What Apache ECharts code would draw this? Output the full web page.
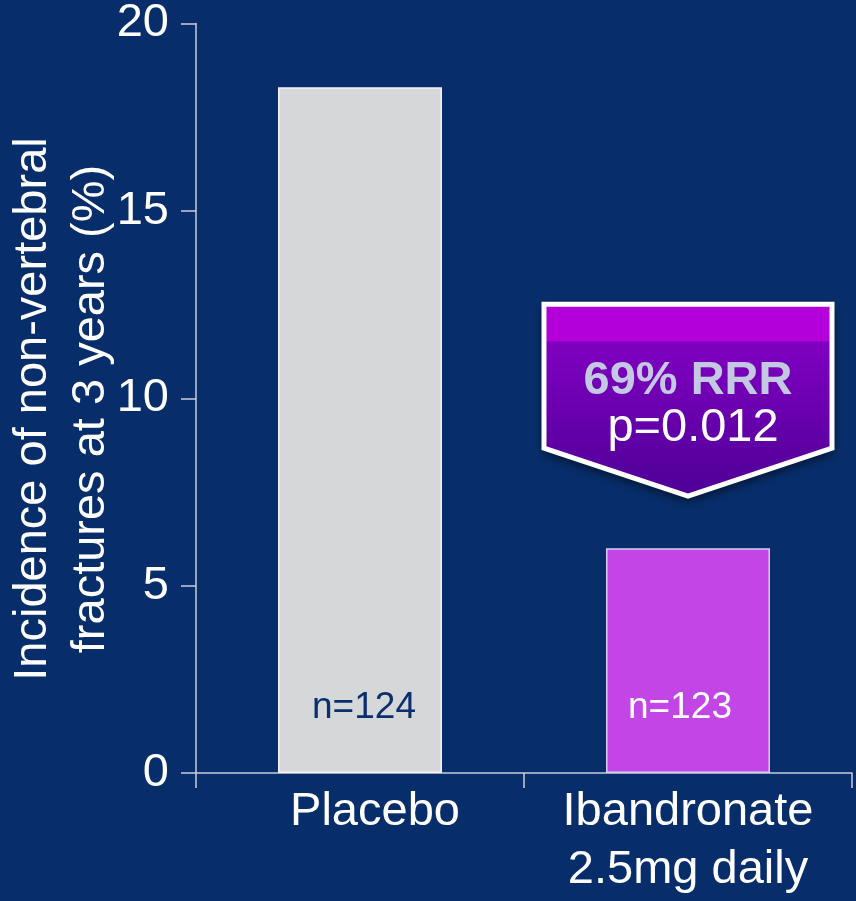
<!DOCTYPE html>
<html>
<head>
<meta charset="utf-8">
<script src="https://cdn.jsdelivr.net/npm/echarts@6/dist/echarts.min.js"></script>
<style>
  html, body { margin: 0; padding: 0; background: #072e6b; }
  #chart { width: 856px; height: 901px; }
</style>
</head>
<body>
<div id="chart"></div>
<script>
// Non-vertebral fracture incidence at 3 years, by treatment group
const categories = ['Placebo', 'Ibandronate\n2.5mg daily'];
const incidence = [18.3, 6.0];
const sampleSizes = ['n=124', 'n=123'];
const yTicks = [0, 5, 10, 15, 20];
const axisTitle = ['Incidence of non-vertebral', 'fractures at 3 years (%)'];
const calloutLines = ['69% RRR', 'p=0.012'];

const FONT = '"Liberation Sans", Arial, sans-serif';
const AXIS_COLOR = '#c9cdd8';
const barFills = ['#d6d7d9', '#c246e6'];
const barEdges = ['#f4f4f4', '#d9cdf0'];
const countColors = ['#0b2f6d', '#ffffff'];
const countShift = [[4, 0], [-8, 0]];

const chart = echarts.init(document.getElementById('chart'));

chart.setOption({
  backgroundColor: '#072e6b',
  animation: false,
  grid: { left: 196, right: 4, top: 20, bottom: 128 },
  xAxis: {
    type: 'category',
    data: categories,
    axisLine: { show: true, lineStyle: { color: AXIS_COLOR, width: 1.5 } },
    axisTick: { show: true, length: 15, lineStyle: { color: AXIS_COLOR, width: 1.5 } },
    axisLabel: {
      color: '#ffffff',
      fontFamily: FONT,
      fontSize: 47,
      lineHeight: 58,
      margin: 10,
      formatter: function (v, i) { return i === 0 ? '{p|' + v + '}' : v; },
      rich: { p: { fontFamily: FONT, fontSize: 47, color: '#ffffff', padding: [0, 0, 0, 30] } }
    }
  },
  yAxis: {
    type: 'value',
    min: yTicks[0],
    max: yTicks[yTicks.length - 1],
    interval: yTicks[1] - yTicks[0],
    axisLine: { show: true, lineStyle: { color: AXIS_COLOR, width: 1.5 } },
    axisTick: { show: true, length: 15, lineStyle: { color: AXIS_COLOR, width: 1.5 } },
    splitLine: { show: false },
    axisLabel: { color: '#ffffff', fontFamily: FONT, fontSize: 47, margin: 27 }
  },
  series: [{
    type: 'bar',
    barWidth: '50%',
    data: incidence.map(function (v, i) {
      return {
        value: v,
        itemStyle: { color: barFills[i], borderColor: barEdges[i], borderWidth: 1.5 },
        label: { color: countColors[i], offset: countShift[i] }
      };
    }),
    label: {
      show: true,
      position: 'insideBottom',
      distance: 47,
      fontFamily: FONT,
      fontSize: 37,
      formatter: function (p) { return sampleSizes[p.dataIndex]; }
    }
  }]
});

// Relative-risk-reduction callout, hung above the treatment bar
const tipX = chart.convertToPixel({ xAxisIndex: 0 }, categories[1]);
const barTopY = chart.convertToPixel({ yAxisIndex: 0 }, incidence[1]);
const tipY = barTopY - 52;
const halfW = 144;
const topY = tipY - 192;
const shoulderY = tipY - 48;
const bandY = tipY - 155;
const shape = [
  [tipX - halfW, topY], [tipX + halfW, topY], [tipX + halfW, shoulderY],
  [tipX, tipY], [tipX - halfW, shoulderY]
];

chart.setOption({
  graphic: [
    {
      type: 'text',
      rotation: Math.PI / 2,
      x: 62, y: 409,
      style: {
        text: axisTitle.join('\n'),
        fill: '#ffffff',
        font: '47px ' + FONT,
        lineHeight: 58,
        align: 'center',
        verticalAlign: 'middle'
      }
    },
    {
      type: 'polygon',
      shape: { points: shape },
      style: {
        fill: new echarts.graphic.LinearGradient(0, 0, 0, 1, [
          { offset: 0, color: '#8a00c8' },
          { offset: 0.3, color: '#7a00bc' },
          { offset: 1, color: '#4e0096' }
        ]),
        shadowBlur: 12,
        shadowOffsetY: 4,
        shadowColor: 'rgba(0,0,0,0.7)'
      }
    },
    {
      type: 'rect',
      shape: { x: tipX - halfW, y: topY, width: halfW * 2, height: bandY - topY },
      style: { fill: '#b300da' }
    },
    {
      type: 'polygon',
      shape: { points: shape },
      style: { fill: 'none', stroke: '#ffffff', lineWidth: 5, lineJoin: 'miter' }
    },
    {
      type: 'text',
      x: tipX, y: tipY - 115,
      style: {
        text: calloutLines[0],
        fill: '#c3c9e3',
        font: 'bold 47px ' + FONT,
        align: 'center',
        verticalAlign: 'middle'
      }
    },
    {
      type: 'text',
      x: tipX + 5, y: tipY - 68,
      style: {
        text: calloutLines[1],
        fill: '#ffffff',
        font: '47px ' + FONT,
        align: 'center',
        verticalAlign: 'middle'
      }
    }
  ]
});
</script>
</body>
</html>
